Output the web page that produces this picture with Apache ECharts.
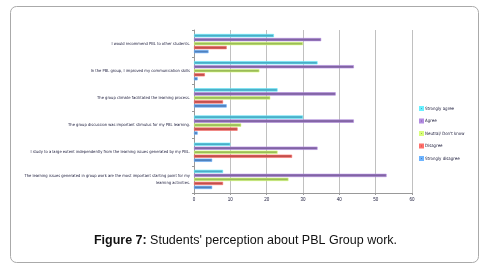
<!DOCTYPE html>
<html>
<head>
<meta charset="utf-8">
<script src="https://cdn.jsdelivr.net/npm/echarts@6/dist/echarts.min.js"></script>
<style>
html,body{margin:0;padding:0;background:#fff;}
#chart{width:491px;height:272px;}
</style>
</head>
<body>
<div id="chart"></div>
<script>
// Categories listed bottom to top (as drawn by the value axis direction)
var categories = [
  "The learning issues generated in group work are the most important starting point for my learning activities.",
  "I study to a large extent independently from the learning issues generated by my PBL.",
  "The group discussion was important stimulus for my PBL learning.",
  "The group climate facilitated the learning process.",
  "In the PBL group, I improved my communication skills",
  "I would recommend PBL to other students."
];
var seriesNames = ["Strongly agree", "Agree", "Neutral/ Don't know", "Disagree", "Strongly disagree"];
var stronglyAgree = [8, 10, 30, 23, 34, 22];
var agree = [53, 34, 44, 39, 44, 35];
var neutral = [26, 23, 13, 21, 18, 30];
var disagree = [8, 27, 12, 8, 3, 9];
var stronglyDisagree = [5, 5, 1, 9, 1, 4];
var xTicks = [0, 10, 20, 30, 40, 50, 60];
var colors = ["#4bacc6", "#8064a2", "#9bbb59", "#c0504d", "#4f81bd"];
var values = [stronglyAgree, agree, neutral, disagree, stronglyDisagree];

var chart = echarts.init(document.getElementById('chart'), null, {renderer: 'canvas'});
var series = seriesNames.map(function (n, i) {
  return {
    name: n, type: 'bar', data: values[i], barWidth: 3.2, barGap: '25%',
    itemStyle: {color: colors[i], borderColor: echarts.color.lift(colors[i], -0.4), borderWidth: 0.6},
    animation: false
  };
});
chart.setOption({
  backgroundColor: '#fff',
  animation: false,
  graphic: [
    {type: 'rect', shape: {x: 10.5, y: 6.5, width: 468, height: 256, r: 6}, style: {fill: 'none', stroke: '#aaaaaa', lineWidth: 1}, z: -1},
    {type: 'text', left: 'center', top: 234, style: {
      rich: {b: {fontFamily: 'Liberation Sans, Arial', fontWeight: 'bold', fontSize: 12.5, fill: '#111'},
             n: {fontFamily: 'Liberation Sans, Arial', fontSize: 12.5, fill: '#111'}},
      text: "{b|Figure 7:} {n|Students' perception about PBL Group work.}"
    }}
  ],
  legend: {
    orient: 'vertical', left: 414, top: 101, itemWidth: 3, itemHeight: 3, itemGap: 7.5,
    icon: 'rect', data: seriesNames,
    textStyle: {fontSize: 4.4, fontFamily: 'Liberation Sans Narrow, DejaVu Sans Condensed, sans-serif', color: '#1a1a3a', padding: [0, 0, 0, -3]}
  },
  grid: {left: 194, right: 79, top: 30, bottom: 79, containLabel: false},
  xAxis: {
    type: 'value', min: 0, max: 60, interval: 10,
    axisLine: {show: true, lineStyle: {color: '#999', width: 1}},
    axisTick: {show: true, length: 2, lineStyle: {color: '#999'}},
    splitLine: {show: true, lineStyle: {color: '#c0c0c0', width: 1}},
    axisLabel: {fontSize: 4.5, color: '#1a1a3a', margin: 4, fontFamily: 'Liberation Sans Narrow, sans-serif',
      formatter: function (v) { return xTicks.indexOf(v) >= 0 ? String(v) : ''; }}
  },
  yAxis: {
    type: 'category', data: categories,
    axisLine: {show: true, lineStyle: {color: '#999'}},
    axisTick: {show: true, length: 2, lineStyle: {color: '#999'}},
    axisLabel: {fontSize: 4.1, color: '#1a1a3a', margin: 4, lineHeight: 7, align: 'right',
      fontFamily: 'Liberation Sans Narrow, DejaVu Sans Condensed, sans-serif',
      formatter: function (v) { return v.replace(' learning activities.', '\nlearning activities.'); }}
  },
  series: series
});
</script>
</body>
</html>
